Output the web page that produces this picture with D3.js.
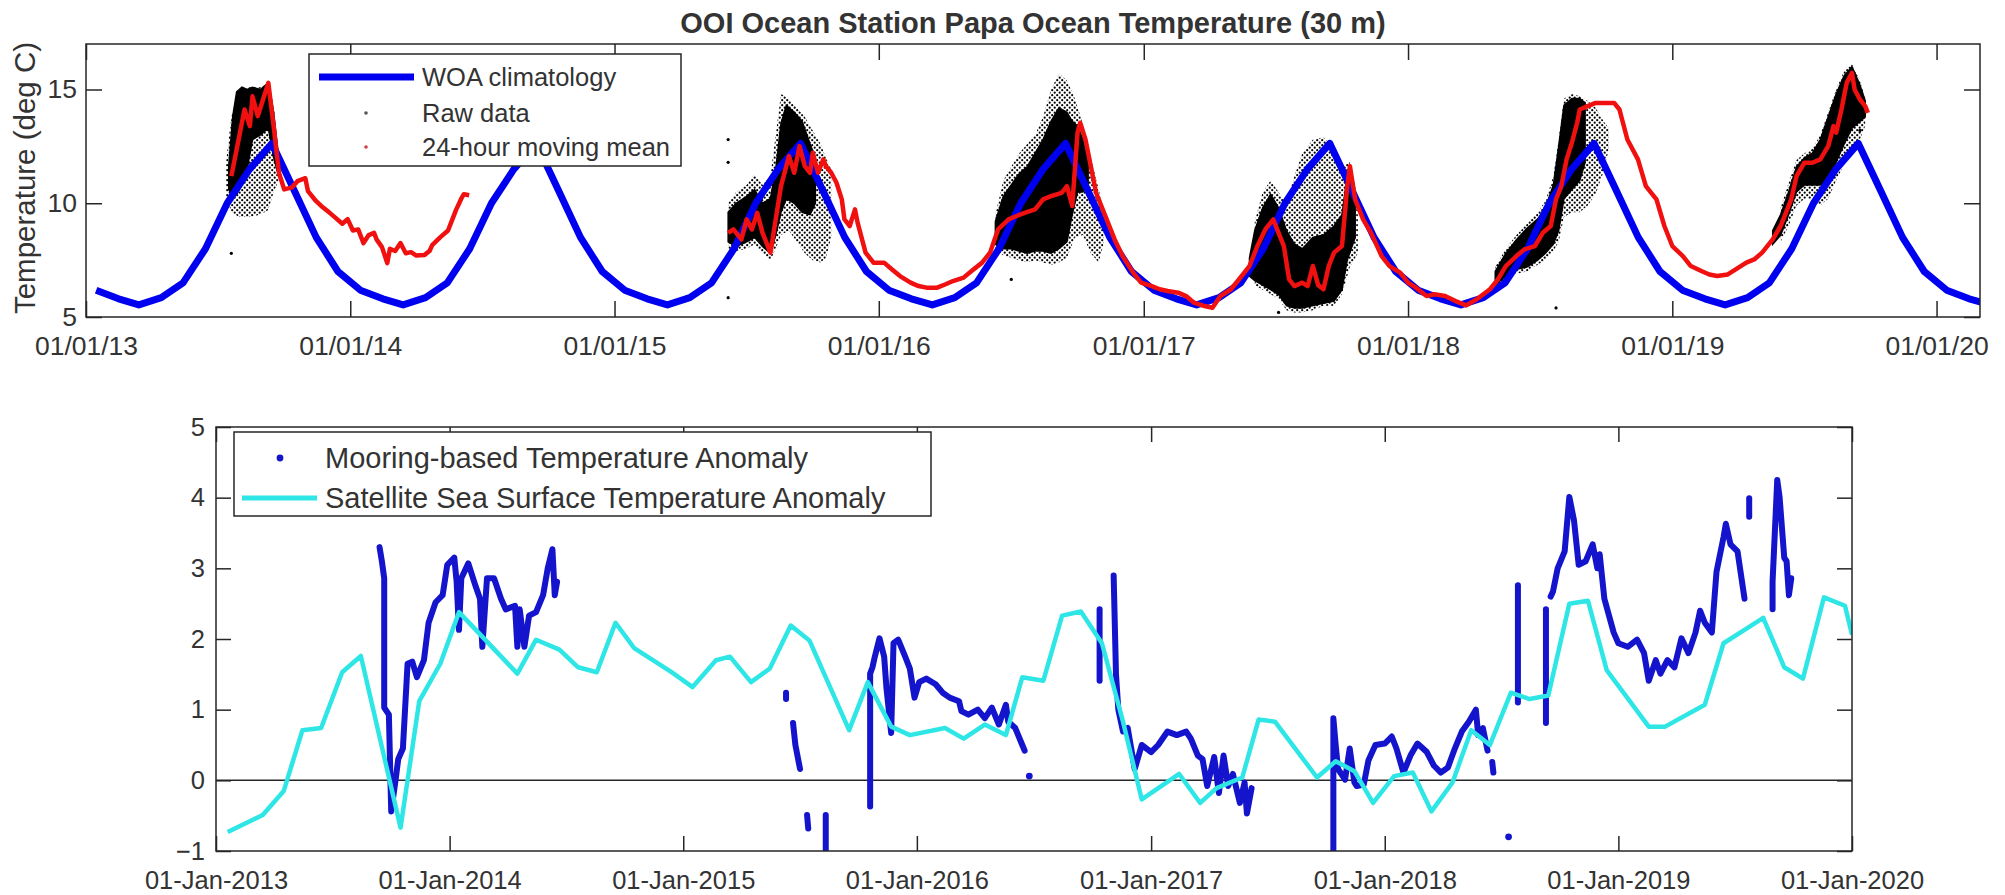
<!DOCTYPE html>
<html>
<head>
<meta charset="utf-8">
<script src="https://cdnjs.cloudflare.com/ajax/libs/d3/7.8.5/d3.min.js"></script>
<style>
    body { margin: 0; background: #fff; }
    svg text { font-family: "Liberation Sans", Arial, Helvetica, sans-serif; fill: #333; }
</style>
</head>
<body>
<svg id="chart" width="2005" height="895"></svg>
<script>
// ---- data (decimal years, deg C) ----
var tickYears = [2013, 2014, 2015, 2016, 2017, 2018, 2019, 2020];
var woaYears = [2013, 2014, 2015, 2016, 2017, 2018, 2019, 2020];
// WOA monthly climatology at 30 m, Jan..Dec (mid-month)
var woaMonthly = [6.18, 5.80, 5.53, 5.85, 6.50, 8.00, 10.00, 11.50, 12.63, 10.60, 8.50, 7.00];

// 24-hour moving mean
var mean2013 = [[2013.55,11.19],[2013.57,12.36],[2013.60,14.12],[2013.62,13.39],[2013.63,14.70],[2013.65,13.83],[2013.67,14.56],[2013.69,15.29],[2013.71,13.39],[2013.73,11.34],[2013.75,10.61],[2013.78,10.70],[2013.80,10.97],[2013.83,11.10],[2013.84,10.53],[2013.87,10.10],[2013.89,9.88],[2013.92,9.60],[2013.94,9.40],[2013.97,9.10],[2013.99,9.30],[2014.01,8.80],[2014.03,8.85],[2014.05,8.25],[2014.07,8.60],[2014.09,8.70],[2014.10,8.40],[2014.12,8.07],[2014.14,7.37],[2014.15,8.00],[2014.17,7.90],[2014.19,8.25],[2014.21,7.80],[2014.23,7.85],[2014.25,7.70],[2014.28,7.72],[2014.30,7.90],[2014.31,8.16],[2014.34,8.50],[2014.37,8.80],[2014.39,9.40],[2014.40,9.70],[2014.42,10.20],[2014.43,10.40],[2014.45,10.35]];
var mean2015 = [[2015.43,8.70],[2015.45,8.85],[2015.48,8.41],[2015.50,9.29],[2015.52,8.85],[2015.54,9.58],[2015.56,8.70],[2015.59,7.83],[2015.61,9.29],[2015.63,10.75],[2015.64,11.19],[2015.66,12.07],[2015.68,11.34],[2015.70,12.51],[2015.72,11.63],[2015.74,11.34],[2015.75,12.22],[2015.77,11.34],[2015.79,11.93],[2015.80,11.63],[2015.82,11.34],[2015.84,10.90],[2015.86,10.17],[2015.87,9.29],[2015.89,9.00],[2015.91,9.73],[2015.92,9.14],[2015.95,7.83],[2015.98,7.39],[2016.02,7.39],[2016.05,7.09],[2016.08,6.80],[2016.12,6.51],[2016.15,6.36],[2016.18,6.29],[2016.22,6.29],[2016.25,6.43],[2016.28,6.58],[2016.32,6.73],[2016.35,7.02],[2016.39,7.39],[2016.42,7.83],[2016.45,8.85],[2016.49,9.29],[2016.52,9.44],[2016.55,9.58],[2016.59,9.73],[2016.62,10.17],[2016.65,10.31],[2016.69,10.46],[2016.71,10.75],[2016.73,9.88],[2016.75,13.10],[2016.76,13.54],[2016.78,12.80],[2016.80,11.63],[2016.82,10.46],[2016.86,9.29],[2016.89,8.41],[2016.92,7.68],[2016.96,6.95],[2016.99,6.51],[2017.03,6.36],[2017.06,6.22],[2017.09,6.14],[2017.13,6.07],[2017.16,5.92],[2017.19,5.63],[2017.23,5.48],[2017.26,5.41],[2017.29,5.92],[2017.33,6.22],[2017.36,6.65],[2017.40,7.24],[2017.43,8.12],[2017.46,8.85],[2017.49,9.29],[2017.51,8.70],[2017.53,8.12],[2017.55,6.65],[2017.57,6.36],[2017.60,6.51],[2017.62,6.36],[2017.64,7.24],[2017.66,6.40],[2017.68,6.22],[2017.70,7.24],[2017.72,7.83],[2017.75,8.12],[2017.77,10.75],[2017.78,11.63],[2017.80,10.17],[2017.83,9.29],[2017.86,8.70],[2017.90,7.68],[2017.93,7.24],[2017.97,6.95],[2018.00,6.51],[2018.03,6.29],[2018.07,5.92],[2018.10,6.00],[2018.14,5.92],[2018.18,5.70],[2018.22,5.51],[2018.26,5.78],[2018.31,6.22],[2018.34,6.65],[2018.37,7.24],[2018.41,7.68],[2018.44,7.97],[2018.48,8.12],[2018.51,8.70],[2018.54,9.00],[2018.56,10.17],[2018.58,10.75],[2018.60,11.93],[2018.62,12.66],[2018.64,13.54],[2018.65,14.12],[2018.68,14.27],[2018.71,14.41],[2018.75,14.41],[2018.78,14.41],[2018.80,14.12],[2018.83,12.80],[2018.87,11.93],[2018.90,10.75],[2018.94,10.17],[2018.97,9.00],[2019.00,8.12],[2019.04,7.68],[2019.07,7.24],[2019.11,7.02],[2019.14,6.87],[2019.17,6.80],[2019.21,6.87],[2019.24,7.09],[2019.28,7.39],[2019.31,7.53],[2019.34,7.83],[2019.38,8.41],[2019.41,9.00],[2019.45,10.17],[2019.47,11.19],[2019.50,11.78],[2019.53,11.78],[2019.56,11.93],[2019.59,12.51],[2019.61,13.39],[2019.62,13.10],[2019.64,14.12],[2019.66,15.29],[2019.68,15.73],[2019.69,15.00],[2019.71,14.56],[2019.73,14.27],[2019.74,13.97]];

// raw data spread, [year, low, high]: dense core and sparse outer scatter
var raw2013Dense = [[2013.54,10.6,11.6],[2013.555,10.3,13.8],[2013.57,10.4,14.9],[2013.59,10.8,15.1],[2013.61,11.5,15.0],[2013.63,12.8,15.1],[2013.66,13.0,15.0],[2013.69,13.3,15.3],[2013.71,12.0,14.0],[2013.73,11.2,11.9]];
var raw2013Sparse = [[2013.53,10.3,11.8],[2013.55,9.6,13.8],[2013.58,9.4,15.0],[2013.62,9.4,15.1],[2013.66,9.5,15.1],[2013.69,9.7,15.3],[2013.71,10.5,14.3],[2013.73,11.0,12.0]];
var raw2015Dense = [[2015.43,8.3,9.6],[2015.46,8.1,10.0],[2015.50,8.3,10.3],[2015.53,8.5,10.6],[2015.56,8.1,10.0],[2015.59,7.8,10.2],[2015.61,8.6,11.5],[2015.63,9.6,13.5],[2015.65,10.2,14.3],[2015.68,10.0,14.0],[2015.71,9.6,13.6],[2015.74,9.5,12.6],[2015.76,10.0,12.0]];
var raw2015Sparse = [[2015.43,8.0,10.0],[2015.46,7.9,10.5],[2015.50,8.0,10.8],[2015.53,8.2,11.3],[2015.56,7.8,10.8],[2015.59,7.5,11.2],[2015.61,8.0,13.0],[2015.63,8.6,14.8],[2015.66,8.8,14.6],[2015.69,8.3,14.2],[2015.72,7.8,13.8],[2015.75,7.5,13.2],[2015.78,7.4,12.6],[2015.80,7.6,12.0],[2015.82,8.5,11.5]];
var raw2016Dense = [[2016.44,8.2,9.2],[2016.47,8.0,10.3],[2016.50,8.0,10.8],[2016.53,7.9,11.3],[2016.56,7.8,11.6],[2016.59,7.9,12.2],[2016.62,7.9,12.8],[2016.65,7.8,13.6],[2016.68,8.0,14.2],[2016.71,8.3,14.0],[2016.73,9.5,13.6],[2016.75,10.5,13.4],[2016.77,10.5,12.8],[2016.79,10.8,11.8]];
var raw2016Sparse = [[2016.44,8.0,9.5],[2016.47,7.7,11.0],[2016.50,7.6,11.6],[2016.53,7.5,12.2],[2016.56,7.4,12.6],[2016.59,7.5,13.0],[2016.62,7.4,13.8],[2016.65,7.3,15.0],[2016.68,7.4,15.7],[2016.71,7.6,15.4],[2016.74,8.5,14.6],[2016.77,8.6,13.5],[2016.80,7.8,12.0],[2016.83,7.4,10.6],[2016.85,8.3,9.6]];
var raw2017Dense = [[2017.40,6.8,7.6],[2017.42,6.6,8.8],[2017.45,6.4,9.8],[2017.48,6.2,10.4],[2017.51,6.0,9.8],[2017.54,5.5,8.8],[2017.57,5.4,8.2],[2017.60,5.4,8.0],[2017.64,5.5,8.5],[2017.68,5.6,8.6],[2017.72,5.7,9.0],[2017.75,6.2,9.5],[2017.77,7.5,11.2],[2017.80,8.5,10.5]];
var raw2017Sparse = [[2017.42,6.4,9.2],[2017.45,6.2,10.5],[2017.48,6.0,11.0],[2017.51,5.8,10.5],[2017.54,5.3,10.0],[2017.57,5.2,11.2],[2017.60,5.2,12.2],[2017.64,5.3,12.8],[2017.68,5.5,12.9],[2017.72,5.5,12.4],[2017.75,6.0,11.6],[2017.78,7.2,11.8],[2017.81,7.8,10.2]];
var raw2018Dense = [[2018.33,6.4,7.0],[2018.37,6.8,7.8],[2018.41,7.1,8.4],[2018.45,7.2,8.9],[2018.49,7.5,9.3],[2018.52,7.8,9.8],[2018.55,8.2,10.8],[2018.57,8.8,12.5],[2018.59,10.2,14.3],[2018.62,10.6,14.6],[2018.65,11.0,14.6],[2018.67,11.8,14.4]];
var raw2018Sparse = [[2018.33,6.3,7.2],[2018.37,6.6,8.0],[2018.41,6.9,8.6],[2018.45,7.0,9.1],[2018.49,7.3,9.6],[2018.52,7.5,10.1],[2018.55,7.9,11.2],[2018.57,8.3,12.8],[2018.59,9.4,14.6],[2018.62,9.6,14.8],[2018.65,9.6,14.7],[2018.68,9.9,14.5],[2018.71,10.4,14.2],[2018.74,11.4,13.6],[2018.76,12.4,13.3]];
var raw2019Dense = [[2019.38,8.2,8.8],[2019.41,8.6,9.5],[2019.44,9.5,10.5],[2019.47,10.5,11.6],[2019.50,10.8,12.0],[2019.53,10.8,12.2],[2019.56,10.8,12.8],[2019.59,11.0,13.8],[2019.62,11.8,14.8],[2019.65,12.6,15.6],[2019.68,13.3,16.0],[2019.71,13.6,15.2],[2019.73,13.8,14.5]];
var raw2019Sparse = [[2019.41,8.3,9.8],[2019.44,9.0,10.9],[2019.47,9.9,11.9],[2019.50,10.2,12.2],[2019.53,10.2,12.4],[2019.56,9.9,13.0],[2019.59,10.2,14.0],[2019.62,11.0,15.0],[2019.65,11.7,15.8],[2019.68,12.5,16.1],[2019.71,12.8,15.4],[2019.73,13.4,14.6]];
var rawOutliers = [[2013.55,7.8],[2015.43,12.8],[2015.43,11.8],[2015.43,5.85],[2016.50,6.65],[2017.51,5.2],[2018.56,5.4],[2019.71,13.2]];

// anomaly panel
var satellite = [[2013.05,-0.73],[2013.20,-0.49],[2013.29,-0.15],[2013.37,0.71],[2013.45,0.74],[2013.54,1.53],[2013.62,1.76],[2013.79,-0.67],[2013.87,1.12],[2013.96,1.65],[2014.04,2.38],[2014.29,1.51],[2014.37,1.99],[2014.47,1.85],[2014.55,1.60],[2014.63,1.53],[2014.71,2.23],[2014.79,1.87],[2014.95,1.53],[2015.04,1.32],[2015.14,1.70],[2015.20,1.75],[2015.29,1.39],[2015.37,1.58],[2015.46,2.19],[2015.54,1.98],[2015.71,0.71],[2015.79,1.39],[2015.89,0.76],[2015.97,0.64],[2016.12,0.74],[2016.20,0.59],[2016.29,0.79],[2016.38,0.64],[2016.45,1.46],[2016.54,1.41],[2016.62,2.33],[2016.70,2.39],[2016.79,1.94],[2016.88,0.83],[2016.96,-0.27],[2017.12,0.09],[2017.21,-0.32],[2017.28,-0.11],[2017.39,0.04],[2017.46,0.86],[2017.53,0.83],[2017.71,0.04],[2017.79,0.27],[2017.87,0.13],[2017.95,-0.32],[2018.04,0.06],[2018.12,0.11],[2018.20,-0.44],[2018.29,-0.03],[2018.37,0.71],[2018.45,0.50],[2018.54,1.24],[2018.62,1.15],[2018.70,1.20],[2018.79,2.50],[2018.87,2.54],[2018.95,1.56],[2019.13,0.76],[2019.20,0.76],[2019.37,1.07],[2019.45,1.94],[2019.54,2.13],[2019.62,2.30],[2019.71,1.60],[2019.79,1.44],[2019.88,2.59],[2019.97,2.47],[2020.00,2.06]];

var mooringSegments = [
    [[2013.70,3.30],[2013.71,3.10],[2013.72,2.86],[2013.72,1.03],[2013.74,0.93],[2013.75,-0.44],[2013.77,0.04],[2013.78,0.30],[2013.80,0.45],[2013.82,1.65],[2013.84,1.68],[2013.86,1.46],[2013.89,1.70],[2013.91,2.23],[2013.94,2.52],[2013.97,2.62],[2013.99,3.05],[2014.02,3.15],[2014.03,2.81],[2014.04,2.13],[2014.05,2.86],[2014.08,3.07],[2014.11,2.76],[2014.13,2.57],[2014.14,1.89],[2014.16,2.86],[2014.19,2.86],[2014.22,2.57],[2014.24,2.42],[2014.28,2.47],[2014.29,1.89],[2014.30,2.42],[2014.32,1.89],[2014.34,2.33],[2014.37,2.38],[2014.40,2.62],[2014.42,3.00],[2014.44,3.27],[2014.45,2.62],[2014.46,2.81]],
    [[2015.44,1.24],[2015.44,1.15]],
    [[2015.47,0.81],[2015.48,0.50],[2015.50,0.16]],
    [[2015.53,-0.49],[2015.535,-0.68]],
    [[2015.61,-0.49],[2015.61,-1.05]],
    [[2015.80,-0.37],[2015.80,1.51],[2015.81,1.60],[2015.82,1.75],[2015.84,2.01],[2015.86,1.75],[2015.87,1.30],[2015.89,0.67],[2015.90,1.94],[2015.92,1.99],[2015.95,1.75],[2015.97,1.58],[2015.99,1.17],[2016.01,1.39],[2016.04,1.44],[2016.08,1.36],[2016.11,1.24],[2016.14,1.17],[2016.18,1.12],[2016.19,0.98],[2016.22,0.93],[2016.26,1.00],[2016.29,0.88],[2016.32,1.03],[2016.35,0.79],[2016.38,1.07],[2016.39,0.83],[2016.42,0.74],[2016.45,0.50],[2016.46,0.42]],
    [[2016.78,2.42],[2016.78,1.41]],
    [[2016.84,2.90],[2016.85,1.50],[2016.86,1.00],[2016.88,0.69],[2016.90,0.74],[2016.93,0.16],[2016.96,0.50],[2017.00,0.40],[2017.03,0.50],[2017.07,0.69],[2017.11,0.64],[2017.15,0.69],[2017.17,0.59],[2017.20,0.35],[2017.22,0.30],[2017.24,-0.08],[2017.27,0.33],[2017.29,-0.18],[2017.31,0.35],[2017.33,-0.08],[2017.35,0.09],[2017.38,-0.32],[2017.40,-0.03],[2017.41,-0.47],[2017.43,-0.11]],
    [[2017.78,-1.05],[2017.78,0.88],[2017.79,0.50],[2017.80,0.16],[2017.83,0.01],[2017.85,0.45],[2017.87,-0.03],[2017.88,-0.08],[2017.91,-0.06],[2017.93,0.28],[2017.96,0.50],[2018.00,0.52],[2018.03,0.62],[2018.05,0.45],[2018.08,0.11],[2018.11,0.35],[2018.14,0.52],[2018.18,0.40],[2018.21,0.21],[2018.24,0.11],[2018.27,0.18],[2018.30,0.45],[2018.33,0.69],[2018.36,0.83],[2018.39,1.00],[2018.40,0.64],[2018.42,0.74],[2018.44,0.42]],
    [[2018.46,0.26],[2018.465,0.11]],
    [[2018.57,2.76],[2018.57,1.10]],
    [[2018.69,2.42],[2018.69,0.81]],
    [[2018.71,2.60],[2018.72,2.67],[2018.74,3.00],[2018.77,3.24],[2018.79,4.01],[2018.81,3.68],[2018.83,3.05],[2018.86,3.10],[2018.89,3.34],[2018.91,3.00],[2018.92,3.20],[2018.94,2.57],[2018.98,2.09],[2019.00,1.94],[2019.04,1.89],[2019.08,1.99],[2019.11,1.80],[2019.13,1.41],[2019.16,1.70],[2019.18,1.51],[2019.21,1.70],[2019.24,1.60],[2019.27,2.01],[2019.30,1.80],[2019.33,2.09],[2019.35,2.40],[2019.37,2.23],[2019.40,2.09],[2019.42,2.95],[2019.45,3.44],[2019.46,3.63],[2019.48,3.34],[2019.51,3.24],[2019.54,2.57]],
    [[2019.56,3.99],[2019.56,3.73]],
    [[2019.66,2.42],[2019.66,2.81],[2019.68,4.25],[2019.69,4.01],[2019.71,3.15],[2019.72,3.10],[2019.73,2.62],[2019.74,2.86]]
];
var mooringDots = [[2016.48,0.06],[2018.53,-0.80]];

// ---- helpers ----
function yd(v) {
    var yr = Math.floor(v), s = Date.UTC(yr, 0, 1), e = Date.UTC(yr + 1, 0, 1);
    return new Date(s + (v - yr) * (e - s));
}
function jan1(yr) { return new Date(Date.UTC(yr, 0, 1)); }

var svg = d3.select("#chart");
var ink = "#262626";

// dotted fill standing in for the sparse scatter of raw points
var pat = svg.append("defs").append("pattern").attr("id", "scatter")
    .attr("patternUnits", "userSpaceOnUse").attr("width", 5).attr("height", 5);
pat.append("circle").attr("cx", 1.2).attr("cy", 1.2).attr("r", 1.1).attr("fill", "#000");
pat.append("circle").attr("cx", 3.7).attr("cy", 3.7).attr("r", 1.1).attr("fill", "#000");

function frame(g, x, y, w, h, xFmt, yTicks, tl, xpad, ypad, fs) {
    var ticks = tickYears.map(jan1);
    g.append("g").attr("transform", "translate(0," + h + ")")
        .call(d3.axisBottom(x).tickValues(ticks).tickFormat(xFmt).tickSize(-tl).tickPadding(xpad));
    g.append("g")
        .call(d3.axisTop(x).tickValues(ticks).tickFormat("").tickSize(-tl));
    g.append("g")
        .call(d3.axisLeft(y).tickValues(yTicks).tickFormat(d3.format("d")).tickSize(-tl).tickPadding(ypad));
    g.append("g").attr("transform", "translate(" + w + ",0)")
        .call(d3.axisRight(y).tickValues(yTicks).tickFormat("").tickSize(-tl));
    g.selectAll(".domain").remove();
    g.selectAll(".tick line").attr("stroke", ink).attr("stroke-width", 1.5);
    g.selectAll(".tick text").attr("font-size", fs).attr("fill", "#333");
}

// ================= top panel =================
var m1 = {left: 86, top: 44, right: 1980, bottom: 317};
var w1 = m1.right - m1.left, h1 = m1.bottom - m1.top;
var g1 = svg.append("g").attr("transform", "translate(" + m1.left + "," + m1.top + ")");

var x1 = d3.scaleUtc().domain([jan1(2013), new Date(Date.UTC(2020, 2, 1))]).range([0, w1]);
var y1 = d3.scaleLinear().domain([5, 17]).range([h1, 0]);

svg.append("clipPath").attr("id", "clip1").append("rect").attr("x", 0).attr("y", 0).attr("width", w1).attr("height", h1);

var woa = [];
woaYears.forEach(function(yr) {
    woaMonthly.forEach(function(v, m) { woa.push([new Date(Date.UTC(yr, m, 15)), v]); });
});

var plot1 = g1.append("g").attr("clip-path", "url(#clip1)");

var rawArea = d3.area()
    .x(function(d) { return x1(yd(d[0])); })
    .y0(function(d) { return y1(d[1]); })
    .y1(function(d) { return y1(d[2]); });

[raw2013Sparse, raw2015Sparse, raw2016Sparse, raw2017Sparse, raw2018Sparse, raw2019Sparse].forEach(function(r) {
    plot1.append("path").attr("d", rawArea(r)).attr("fill", "url(#scatter)");
});
[raw2013Dense, raw2015Dense, raw2016Dense, raw2017Dense, raw2018Dense, raw2019Dense].forEach(function(r) {
    plot1.append("path").attr("d", rawArea(r)).attr("fill", "#000").attr("stroke", "#000").attr("stroke-width", 1.5);
});
plot1.selectAll("circle.raw").data(rawOutliers).enter().append("circle")
    .attr("class", "raw")
    .attr("cx", function(d) { return x1(yd(d[0])); })
    .attr("cy", function(d) { return y1(d[1]); })
    .attr("r", 1.6).attr("fill", "#000");

plot1.append("path")
    .attr("d", d3.line().x(function(d) { return x1(d[0]); }).y(function(d) { return y1(d[1]); })(woa))
    .attr("fill", "none").attr("stroke", "#0000f0").attr("stroke-width", 7).attr("stroke-linejoin", "round");

var meanLine = d3.line().x(function(d) { return x1(yd(d[0])); }).y(function(d) { return y1(d[1]); });
[mean2013, mean2015].forEach(function(s) {
    plot1.append("path").attr("d", meanLine(s))
        .attr("fill", "none").attr("stroke", "#f01010").attr("stroke-width", 4.5).attr("stroke-linejoin", "round");
});

frame(g1, x1, y1, w1, h1, d3.utcFormat("%m/%d/%y"), [5, 10, 15], 16, 19, 9, "26.5px");
g1.append("rect").attr("width", w1).attr("height", h1).attr("fill", "none").attr("stroke", ink).attr("stroke-width", 1.5);

svg.append("text")
    .attr("x", (m1.left + m1.right) / 2).attr("y", 33)
    .attr("text-anchor", "middle").attr("font-weight", "bold").attr("font-size", "29px").attr("fill", "#111")
    .text("OOI Ocean Station Papa Ocean Temperature (30 m)");

svg.append("text")
    .attr("transform", "translate(35,178) rotate(-90)")
    .attr("text-anchor", "middle").attr("font-size", "29.5px")
    .text("Temperature (deg C)");

// legend top
var lg1 = svg.append("g");
lg1.append("rect").attr("x", 309).attr("y", 54).attr("width", 372).attr("height", 112)
    .attr("fill", "#fff").attr("stroke", ink).attr("stroke-width", 1.5);
lg1.append("line").attr("x1", 319).attr("x2", 414).attr("y1", 77).attr("y2", 77)
    .attr("stroke", "#0000f0").attr("stroke-width", 7);
lg1.append("circle").attr("cx", 366).attr("cy", 113).attr("r", 1.8).attr("fill", "#555");
lg1.append("circle").attr("cx", 366).attr("cy", 147).attr("r", 1.8).attr("fill", "#d04040");
["WOA climatology", "Raw data", "24-hour moving mean"].forEach(function(t, i) {
    lg1.append("text").attr("x", 422).attr("y", [77, 113, 147][i]).attr("dy", "0.36em")
        .attr("font-size", "25.5px").text(t);
});

// ================= bottom panel =================
var m2 = {left: 216, top: 427, right: 1852, bottom: 851};
var w2 = m2.right - m2.left, h2 = m2.bottom - m2.top;
var g2 = svg.append("g").attr("transform", "translate(" + m2.left + "," + m2.top + ")");

var x2 = d3.scaleUtc().domain([jan1(2013), jan1(2020)]).range([0, w2]);
var y2 = d3.scaleLinear().domain([-1, 5]).range([h2, 0]);

svg.append("clipPath").attr("id", "clip2").append("rect").attr("x", 0).attr("y", 0).attr("width", w2).attr("height", h2);
var plot2 = g2.append("g").attr("clip-path", "url(#clip2)");

plot2.append("line").attr("x1", 0).attr("x2", w2).attr("y1", y2(0)).attr("y2", y2(0))
    .attr("stroke", ink).attr("stroke-width", 1.5);

var anomLine = d3.line().x(function(d) { return x2(yd(d[0])); }).y(function(d) { return y2(d[1]); });
mooringSegments.forEach(function(s) {
    plot2.append("path").attr("d", anomLine(s))
        .attr("fill", "none").attr("stroke", "#1414cc").attr("stroke-width", 6)
        .attr("stroke-linejoin", "round").attr("stroke-linecap", "round");
});
plot2.selectAll("circle.moor").data(mooringDots).enter().append("circle")
    .attr("class", "moor")
    .attr("cx", function(d) { return x2(yd(d[0])); })
    .attr("cy", function(d) { return y2(d[1]); })
    .attr("r", 3.4).attr("fill", "#1414cc");

plot2.append("path").attr("d", anomLine(satellite))
    .attr("fill", "none").attr("stroke", "#2ee6e6").attr("stroke-width", 4.5).attr("stroke-linejoin", "round");

frame(g2, x2, y2, w2, h2, d3.utcFormat("%d-%b-%Y"), [-1, 0, 1, 2, 3, 4, 5], 15, 20, 11, "25.5px");
g2.append("rect").attr("width", w2).attr("height", h2).attr("fill", "none").attr("stroke", ink).attr("stroke-width", 1.5);

// legend bottom
var lg2 = svg.append("g");
lg2.append("rect").attr("x", 234).attr("y", 432).attr("width", 697).attr("height", 84)
    .attr("fill", "#fff").attr("stroke", ink).attr("stroke-width", 1.5);
lg2.append("circle").attr("cx", 280).attr("cy", 458).attr("r", 3.4).attr("fill", "#1414cc");
lg2.append("line").attr("x1", 242).attr("x2", 317).attr("y1", 498).attr("y2", 498)
    .attr("stroke", "#2ee6e6").attr("stroke-width", 5);
["Mooring-based Temperature Anomaly", "Satellite Sea Surface Temperature Anomaly"].forEach(function(t, i) {
    lg2.append("text").attr("x", 325).attr("y", [458, 498][i]).attr("dy", "0.36em")
        .attr("font-size", "29px").text(t);
});
</script>
</body>
</html>
